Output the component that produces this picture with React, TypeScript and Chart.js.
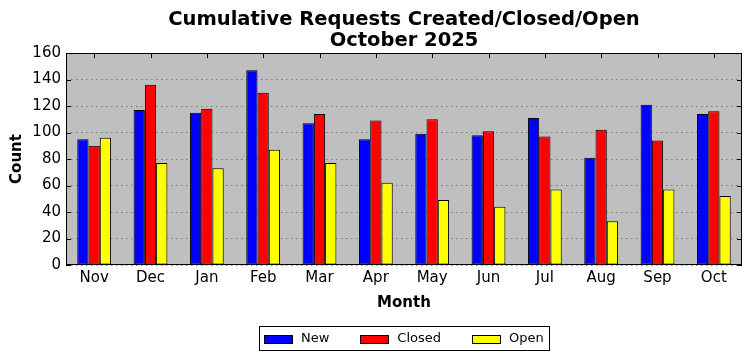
import React, { useEffect, useRef } from "react";
import { Chart, registerables } from "chart.js";

Chart.register(...registerables);

const months = ["Nov", "Dec", "Jan", "Feb", "Mar", "Apr", "May", "Jun", "Jul", "Aug", "Sep", "Oct"];
const newCounts = [95, 117, 115, 147, 107, 95, 99, 98, 111, 81, 121, 114];
const closedCounts = [90, 136, 118, 130, 114, 109, 110, 101, 97, 102, 94, 116];
const openCounts = [96, 77, 73, 87, 77, 62, 49, 44, 57, 33, 57, 52];
const yTickValues = [0, 20, 40, 60, 80, 100, 120, 140, 160];
const seriesNames = ["New", "Closed", "Open"];
const seriesColors = ["#0000ff", "#ff0000", "#ffff00"];
const titleLines = ["Cumulative Requests Created/Closed/Open", "October 2025"];
const xTitle = "Month";
const yTitle = "Count";

const FONT = "'DejaVu Sans', sans-serif";
const W = 752;
const H = 361;

const decorPlugin = {
  id: "decor",
  beforeDraw(chart: any) {
    const { ctx, chartArea: a } = chart;
    ctx.save();
    ctx.fillStyle = "#bfbfbf";
    ctx.fillRect(a.left, a.top, a.right - a.left, a.bottom - a.top);
    ctx.restore();
  },
  afterDatasetsDraw(chart: any) {
    const { ctx, chartArea: a } = chart;
    const xs = chart.scales.x;
    const ys = chart.scales.y;
    ctx.save();
    ctx.strokeStyle = "#000";
    ctx.lineWidth = 1;
    ctx.beginPath();
    const tl = 5;
    months.forEach((_, i) => {
      const x = Math.round(xs.getPixelForValue(i)) + 0.5;
      ctx.moveTo(x, a.top);
      ctx.lineTo(x, a.top + tl);
    });
    yTickValues.forEach((v) => {
      const y = Math.round(ys.getPixelForValue(v)) + 0.5;
      ctx.moveTo(a.left, y);
      ctx.lineTo(a.left + tl, y);
      ctx.moveTo(a.right, y);
      ctx.lineTo(a.right - tl, y);
    });
    ctx.stroke();
    ctx.restore();
  },
  afterDraw(chart: any) {
    const { ctx, chartArea: a } = chart;
    ctx.save();
    // frame
    ctx.strokeStyle = "#000";
    ctx.lineWidth = 1;
    ctx.strokeRect(Math.round(a.left) + 0.5, Math.round(a.top) + 0.5, Math.round(a.right - a.left) - 1, Math.round(a.bottom - a.top) - 1);

    // title
    const cx = (a.left + a.right) / 2;
    ctx.fillStyle = "#000";
    ctx.font = `bold 19.5px ${FONT}`;
    ctx.textAlign = "center";
    ctx.textBaseline = "alphabetic";
    ctx.fillText(titleLines[0], cx, 25);
    ctx.fillText(titleLines[1], cx, 46);

    // legend
    ctx.font = `13px ${FONT}`;
    const sw = 28, sh = 8, gapText = 9, gapItem = 31, pad = 5;
    const widths = seriesNames.map((n) => ctx.measureText(n).width);
    let total = pad * 2 + gapItem * (seriesNames.length - 1);
    widths.forEach((w) => (total += sw + gapText + w));
    const boxL = Math.round(cx - total / 2);
    const boxT = 326, boxH = 24;
    ctx.fillStyle = "#fff";
    ctx.fillRect(boxL, boxT, total, boxH);
    ctx.strokeStyle = "#000";
    ctx.strokeRect(boxL + 0.5, boxT + 0.5, Math.round(total), boxH);
    let x = boxL + pad;
    const cy = boxT + boxH / 2 + 0.5;
    seriesNames.forEach((n, i) => {
      ctx.fillStyle = seriesColors[i];
      ctx.fillRect(Math.round(x) + 0.5, Math.round(cy - sh / 2) + 0.5, sw, sh);
      ctx.strokeStyle = "#000";
      ctx.strokeRect(Math.round(x) + 0.5, Math.round(cy - sh / 2) + 0.5, sw, sh);
      x += sw + gapText;
      ctx.fillStyle = "#000";
      ctx.textAlign = "left";
      ctx.textBaseline = "middle";
      ctx.fillText(n, x, cy);
      x += widths[i] + gapItem;
    });
    ctx.restore();
  },
};

export default function App() {
  const ref = useRef<HTMLCanvasElement | null>(null);
  useEffect(() => {
    if (!ref.current) return;
    const mk = (label: string, data: number[], color: string) => ({
      label,
      data,
      backgroundColor: color,
      borderColor: "#000",
      borderWidth: 1,
      borderSkipped: false,
      categoryPercentage: 0.6,
      barPercentage: 1.0,
    });
    const chart = new Chart(ref.current, {
      type: "bar",
      data: {
        labels: months,
        datasets: [
          mk(seriesNames[0], newCounts, seriesColors[0]),
          mk(seriesNames[1], closedCounts, seriesColors[1]),
          mk(seriesNames[2], openCounts, seriesColors[2]),
        ],
      },
      options: {
        responsive: false,
        animation: false,
        devicePixelRatio: 1,
        layout: { padding: { top: 53, right: 10, left: 0, bottom: 0 } },
        plugins: {
          legend: { display: false },
          title: { display: false },
          tooltip: { enabled: false },
        },
        scales: {
          x: {
            type: "category",
            offset: true,
            grid: { display: false, drawTicks: false },
            border: { display: false },
            ticks: { color: "#000", font: { family: FONT, size: 15 }, padding: 4, maxRotation: 0 },
            title: {
              display: true,
              text: xTitle,
              color: "#000",
              font: { family: FONT, size: 15, weight: "bold" },
              padding: { top: 0, bottom: 49 },
            },
            afterFit: (s: any) => {
              s.height = 96;
            },
          },
          y: {
            min: 0,
            max: 160,
            afterBuildTicks: (s: any) => {
              s.ticks = yTickValues.map((v) => ({ value: v }));
            },
            grid: { color: "rgba(90,90,90,0.7)", lineWidth: 1, drawTicks: false },
            border: { display: false, dash: [1.5, 3.5] },
            ticks: { color: "#000", font: { family: FONT, size: 15 }, padding: 5 },
            title: {
              display: true,
              text: yTitle,
              color: "#000",
              font: { family: FONT, size: 15, weight: "bold" },
              padding: { top: 8, bottom: 0 },
            },
            afterFit: (s: any) => {
              s.width = 66;
            },
          },
        },
      },
      plugins: [decorPlugin],
    } as any);
    return () => chart.destroy();
  }, []);
  return (
    <div style={{ position: "fixed", left: 0, top: 0, width: W, height: H, background: "#fff" }}>
      <canvas ref={ref} width={W} height={H} style={{ width: W, height: H, display: "block" }} />
    </div>
  );
}
